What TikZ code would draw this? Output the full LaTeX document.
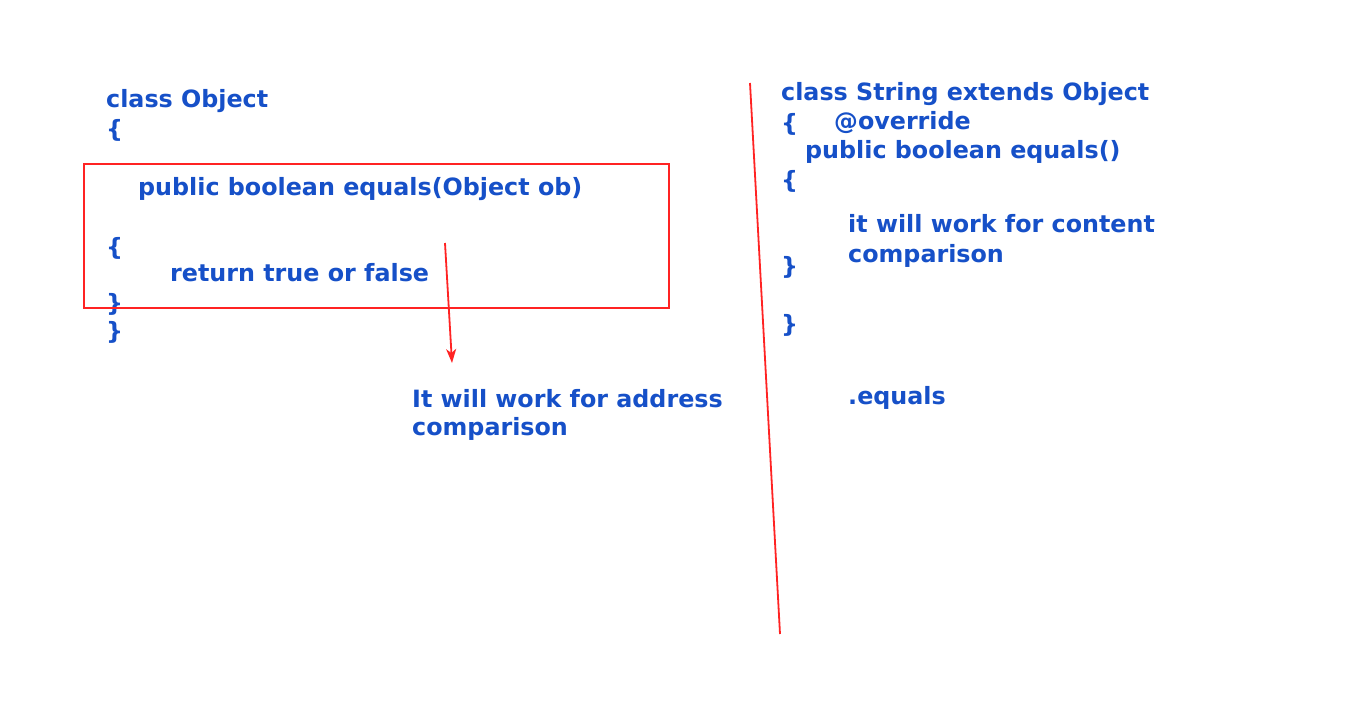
\documentclass[tikz,border=0pt]{standalone}
\usepackage{fontspec}
\setmainfont{DejaVu Sans}
\usetikzlibrary{arrows.meta}
\definecolor{codeblue}{RGB}{22,80,200}
\definecolor{mark}{RGB}{255,35,35}
\tikzset{
  code/.style={anchor=base west,inner sep=0pt,text=codeblue,font=\fontsize{23.8}{28}\selectfont\bfseries},
  redline/.style={draw=mark,line width=1.8pt},
}
\begin{document}
\begin{tikzpicture}[x=1pt,y=-1pt]
\useasboundingbox[fill=white] (0,0) rectangle (1366,706);
% left block
\node[code] (c1) at (106,108) {class Object};
\node[code] (b1) at (106,138) {\{};
\node[code] (m1) at (138,195) {public boolean equals(Object ob)};
\node[code] (b2) at (106,255) {\{};
\node[code] (r1) at (170,281) {return true or false};
\node[code] (b3) at (106,311) {\}};
\node[code] (b4) at (106,339) {\}};
\node[redline,draw,inner sep=0pt,minimum width=585pt,minimum height=144pt,anchor=north west] (box) at (83,163) {};
\coordinate (as) at (445,243);
\coordinate (ae) at (452,363);
\draw[redline,-{Stealth[length=14pt,width=10pt,inset=4pt]}] (as) -- (ae);
\node[code] (n1) at (412,407) {It will work for address};
\node[code] (n2) at (412,435) {comparison};
% divider
\coordinate (d1) at (750,83);
\coordinate (d2) at (780,634);
\draw[redline] (d1) -- (d2);
% right block
\node[code] (c2) at (781,101) {class String extends Object};
\node[code] (b5) at (781,132) {\{};
\node[code] (ov) at (834,130) {@override};
\node[code] (m2) at (805,159) {public boolean equals()};
\node[code] (b6) at (781,189) {\{};
\node[code] (t1) at (848,233) {it will work for content};
\node[code] (t2) at (848,262) {comparison};
\node[code] (b7) at (781,274) {\}};
\node[code] (b8) at (781,332) {\}};
\node[code] (eq) at (848,404) {.equals};
\end{tikzpicture}
\end{document}
